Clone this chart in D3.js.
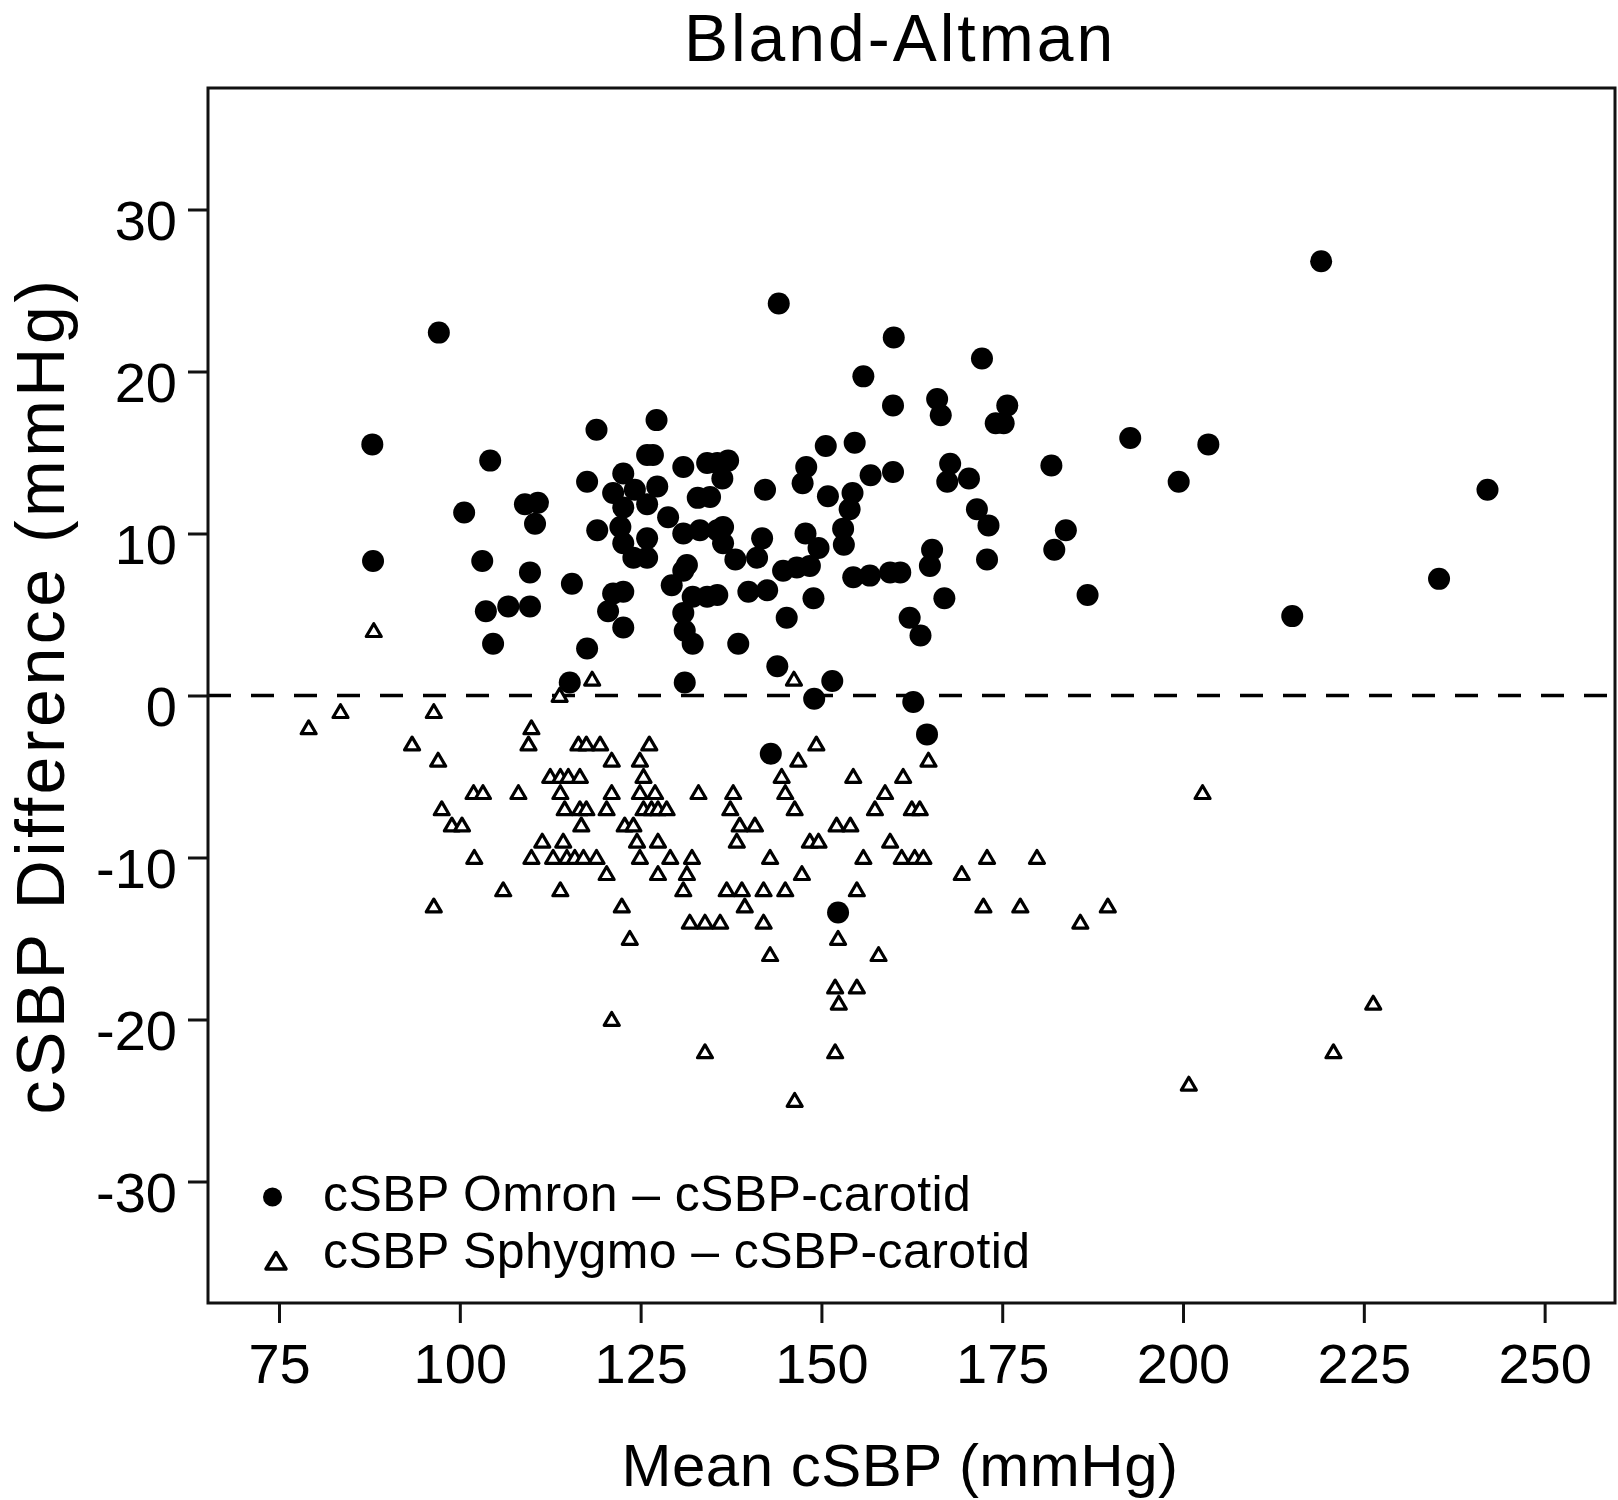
<!DOCTYPE html>
<html>
<head>
<meta charset="utf-8">
<script src="https://cdn.jsdelivr.net/npm/d3@7"></script>
<style>
  html, body { margin: 0; padding: 0; background: #fff; }
  svg { display: block; }
  text { font-family: "Liberation Sans", Arial, Helvetica, sans-serif; fill: #000; }
</style>
</head>
<body>
<svg id="chart" width="1618" height="1500"></svg>
<script>
// ---------------- DATA ----------------
const xTicks = [75, 100, 125, 150, 175, 200, 225, 250];
const xTickLabels = ["75", "100", "125", "150", "175", "200", "225", "250"];
const yTicks = [-30, -20, -10, 0, 10, 20, 30];
const yTickLabels = ["-30", "-20", "-10", "0", "10", "20", "30"];

const titleText = "Bland-Altman";
const xTitle = "Mean cSBP (mmHg)";
const yTitle = "cSBP Difference (mmHg)";
const seriesNames = ["cSBP Omron \u2013 cSBP-carotid", "cSBP Sphygmo \u2013 cSBP-carotid"];

// Omron - carotid (filled circles)
const omronMean = [
  97.1, 87.9, 88.0, 100.6, 104.2, 103.1, 103.6, 104.6, 115.2, 118.9, 127.2, 131.1, 144.1, 143.0,
  147.4, 147.9, 147.8, 148.4, 148.9, 149.0, 149.6, 150.6, 150.9, 151.5, 152.3, 153.0, 153.1, 153.9,
  154.3, 154.6, 154.4, 156.7, 159.5, 160.9, 155.8, 156.8, 159.9, 159.9, 160.0, 162.2, 162.7, 163.7,
  164.6, 165.0, 165.3, 166.0, 166.5, 167.0, 167.8, 167.4, 170.4, 171.5, 172.2, 172.9, 173.1, 174.1,
  175.2, 175.7, 181.8, 182.2, 183.8, 186.8, 192.7, 199.4, 203.5, 215.1, 219.1, 235.4, 242.1,
  125.9, 126.7, 130.9, 134.2, 135.6, 137.1, 136.3, 117.6, 122.6, 121.2, 124.2, 127.3, 122.6, 125.9,
  128.8, 132.9, 134.6, 142.2, 109.0, 110.8, 110.4, 119.0, 122.2, 122.6, 125.9, 125.9, 124.0, 130.9,
  133.2, 135.6, 136.4, 136.4, 138.1, 141.8, 141.1, 144.7, 146.6, 109.7, 115.5, 106.7, 109.7, 122.6,
  121.2, 120.5, 122.6, 129.3, 131.4, 130.9, 132.2, 135.6, 134.2, 130.9, 131.1, 132.2, 139.9, 142.5,
  138.5, 145.2, 117.6, 143.9
];
const omronDiff = [
  22.4, 15.5, 8.3, 11.3, 14.5, 8.3, 5.2, 3.2, 0.8, 16.4, 17.0, 0.8, 24.2, -3.6,
  13.1, 14.1, 10.0, 8.0, 6.0, -0.2, 9.1, 15.4, 12.3, 0.9, -13.4, 10.3, 9.3, 11.5,
  12.5, 15.6, 7.3, 7.4, 7.6, 7.6, 19.7, 13.6, 17.9, 13.8, 22.1, 4.8, -0.4, 3.7,
  -2.4, 8.0, 9.0, 18.3, 17.3, 6.0, 14.3, 13.2, 13.4, 11.5, 20.8, 8.4, 10.5, 16.8,
  16.8, 17.9, 14.2, 9.0, 10.2, 6.2, 15.9, 13.2, 15.5, 4.9, 26.8, 7.2, 12.7,
  14.85, 14.85, 14.1, 14.35, 14.35, 14.5, 13.4, 13.2, 13.7, 12.5, 12.7, 12.9, 11.6, 11.8,
  11.0, 12.2, 12.25, 12.7, 11.8, 11.9, 10.6, 10.2, 10.4, 9.4, 9.7, 8.5, 8.5, 10.0,
  10.2, 10.2, 10.4, 9.4, 8.4, 9.7, 8.5, 7.7, 7.9, 7.6, 6.9, 5.5, 5.5, 6.4,
  6.3, 5.2, 4.2, 6.8, 8.05, 7.7, 6.1, 6.2, 6.1, 5.1, 4.0, 3.2, 6.4, 6.5,
  3.2, 4.8, 2.9, 1.8
];

// Sphygmo - carotid (open triangles)
const sphygmoMean = [
  88.1,
  118.3, 146.2,
  113.8,
  83.5, 96.4,
  79.1, 109.9,
  93.4, 109.5, 116.4, 117.5, 119.4, 126.2, 149.3,
  97.0, 121.0, 124.9, 146.8, 164.8,
  112.5, 113.9, 115.0, 116.6, 125.4, 144.5, 154.4, 161.3,
  101.9, 103.2, 108.1, 113.9, 121.0, 124.9, 127.0, 133.0, 137.8, 145.0, 158.8, 202.7,
  97.5, 114.5, 116.6, 117.5, 120.3, 125.4, 126.5, 127.4, 128.6, 137.4, 146.3, 157.4, 162.5, 163.6,
  98.9, 100.3, 116.8, 122.8, 124.0, 138.7, 140.8, 152.1, 154.0,
  111.4, 114.3, 124.5, 127.4, 138.3, 148.4, 149.6, 159.5,
  102.0, 109.9, 112.9, 114.8, 115.9, 117.1, 118.9, 124.9, 129.1, 132.1, 142.9, 155.8, 161.1, 162.9, 164.1, 172.9, 179.8,
  120.3, 127.4, 131.4, 147.3, 169.4,
  106.0, 113.9, 130.9, 136.9, 139.0, 142.0, 145.0, 154.9,
  96.4, 122.4, 139.4, 172.4, 177.5, 189.6,
  131.8, 133.9, 136.0, 142.0, 185.8,
  123.5, 152.3,
  142.9, 157.9,
  151.9, 154.9,
  152.4, 226.3,
  121.0,
  133.9, 151.9, 220.8,
  200.8,
  146.3
];
const sphygmoDiff = [
  4,
  1, 1,
  0,
  -1, -1,
  -2, -2,
  -3, -3, -3, -3, -3, -3, -3,
  -4, -4, -4, -4, -4,
  -5, -5, -5, -5, -5, -5, -5, -5,
  -6, -6, -6, -6, -6, -6, -6, -6, -6, -6, -6, -6,
  -7, -7, -7, -7, -7, -7, -7, -7, -7, -7, -7, -7, -7, -7,
  -8, -8, -8, -8, -8, -8, -8, -8, -8,
  -9, -9, -9, -9, -9, -9, -9, -9,
  -10, -10, -10, -10, -10, -10, -10, -10, -10, -10, -10, -10, -10, -10, -10, -10, -10,
  -11, -11, -11, -11, -11,
  -12, -12, -12, -12, -12, -12, -12, -12,
  -13, -13, -13, -13, -13, -13,
  -14, -14, -14, -14, -14,
  -15, -15,
  -16, -16,
  -18, -18,
  -19, -19,
  -20,
  -22, -22, -22,
  -24,
  -25
];

// ---------------- LAYOUT ----------------
const W = 1618, H = 1500;
const plot = { left: 208, top: 88, right: 1615, bottom: 1303 };

const x = d3.scaleLinear().domain([65.18, 259.73]).range([plot.left, plot.right]);
const y = d3.scaleLinear().domain([-37.5, 37.5]).range([plot.bottom, plot.top]);

const svg = d3.select("#chart");

// reference line at 0
svg.append("line")
  .attr("x1", plot.left).attr("x2", plot.right)
  .attr("y1", y(0)).attr("y2", y(0))
  .attr("stroke", "#000").attr("stroke-width", 3.5)
  .attr("stroke-dasharray", "23,20");

// triangles (Sphygmo)
const sphygmo = sphygmoMean.map((m, i) => ({ m, d: sphygmoDiff[i] }));
const triPath = "M0,-7 L7.5,5.8 L-7.5,5.8 Z";
svg.append("g").selectAll("path")
  .data(sphygmo).join("path")
  .attr("d", triPath)
  .attr("transform", d => `translate(${x(d.m)},${y(d.d)})`)
  .attr("fill", "#fff").attr("stroke", "#000")
  .attr("stroke-width", 3.2).attr("stroke-linejoin", "round");

// circles (Omron)
const omron = omronMean.map((m, i) => ({ m, d: omronDiff[i] }));
svg.append("g").selectAll("circle")
  .data(omron).join("circle")
  .attr("cx", d => x(d.m)).attr("cy", d => y(d.d))
  .attr("r", 11).attr("fill", "#000");

// axes
const fmtX = d => xTickLabels[xTicks.indexOf(d)];
const fmtY = d => yTickLabels[yTicks.indexOf(d)];

const gx = svg.append("g")
  .attr("transform", `translate(0,${plot.bottom})`)
  .call(d3.axisBottom(x).tickValues(xTicks).tickFormat(fmtX).tickSize(20).tickPadding(20));
const gy = svg.append("g")
  .attr("transform", `translate(${plot.left},0)`)
  .call(d3.axisLeft(y).tickValues(yTicks).tickFormat(fmtY).tickSize(20).tickPadding(11));

[gx, gy].forEach(g => {
  g.select(".domain").remove();
  g.selectAll(".tick line").attr("stroke", "#111").attr("stroke-width", 3);
  g.selectAll(".tick text")
    .attr("font-size", 56)
    .attr("font-family", '"Liberation Sans", Arial, sans-serif')
    .attr("fill", "#000");
});
gy.selectAll(".tick text").attr("dy", "0.53em");

// frame
svg.append("rect")
  .attr("x", plot.left).attr("y", plot.top)
  .attr("width", plot.right - plot.left).attr("height", plot.bottom - plot.top)
  .attr("fill", "none").attr("stroke", "#111").attr("stroke-width", 3);

// titles
svg.append("text")
  .attr("x", 900).attr("y", 61)
  .attr("text-anchor", "middle").attr("font-size", 66)
  .attr("letter-spacing", 3)
  .text(titleText);

svg.append("text")
  .attr("x", 900).attr("y", 1486)
  .attr("text-anchor", "middle").attr("font-size", 60)
  .attr("letter-spacing", 0.5)
  .text(xTitle);

svg.append("text")
  .attr("transform", `translate(64,${(plot.top + plot.bottom) / 2}) rotate(-90)`)
  .attr("text-anchor", "middle").attr("font-size", 68)
  .attr("letter-spacing", 3.5)
  .text(yTitle);

// legend
const lg = svg.append("g");
lg.append("circle").attr("cx", 272.5).attr("cy", 1197).attr("r", 9.5).attr("fill", "#000");
lg.append("path")
  .attr("d", "M0,-8.5 L10,8 L-10,8 Z")
  .attr("transform", "translate(276,1261)")
  .attr("fill", "#fff").attr("stroke", "#000").attr("stroke-width", 3.5)
  .attr("stroke-linejoin", "round");
lg.selectAll("text.leg")
  .data(seriesNames).join("text")
  .attr("class", "leg")
  .attr("x", 323)
  .attr("y", (d, i) => 1211 + i * 57)
  .attr("font-size", 50)
  .attr("letter-spacing", 0.4)
  .text(d => d);
</script>
</body>
</html>
